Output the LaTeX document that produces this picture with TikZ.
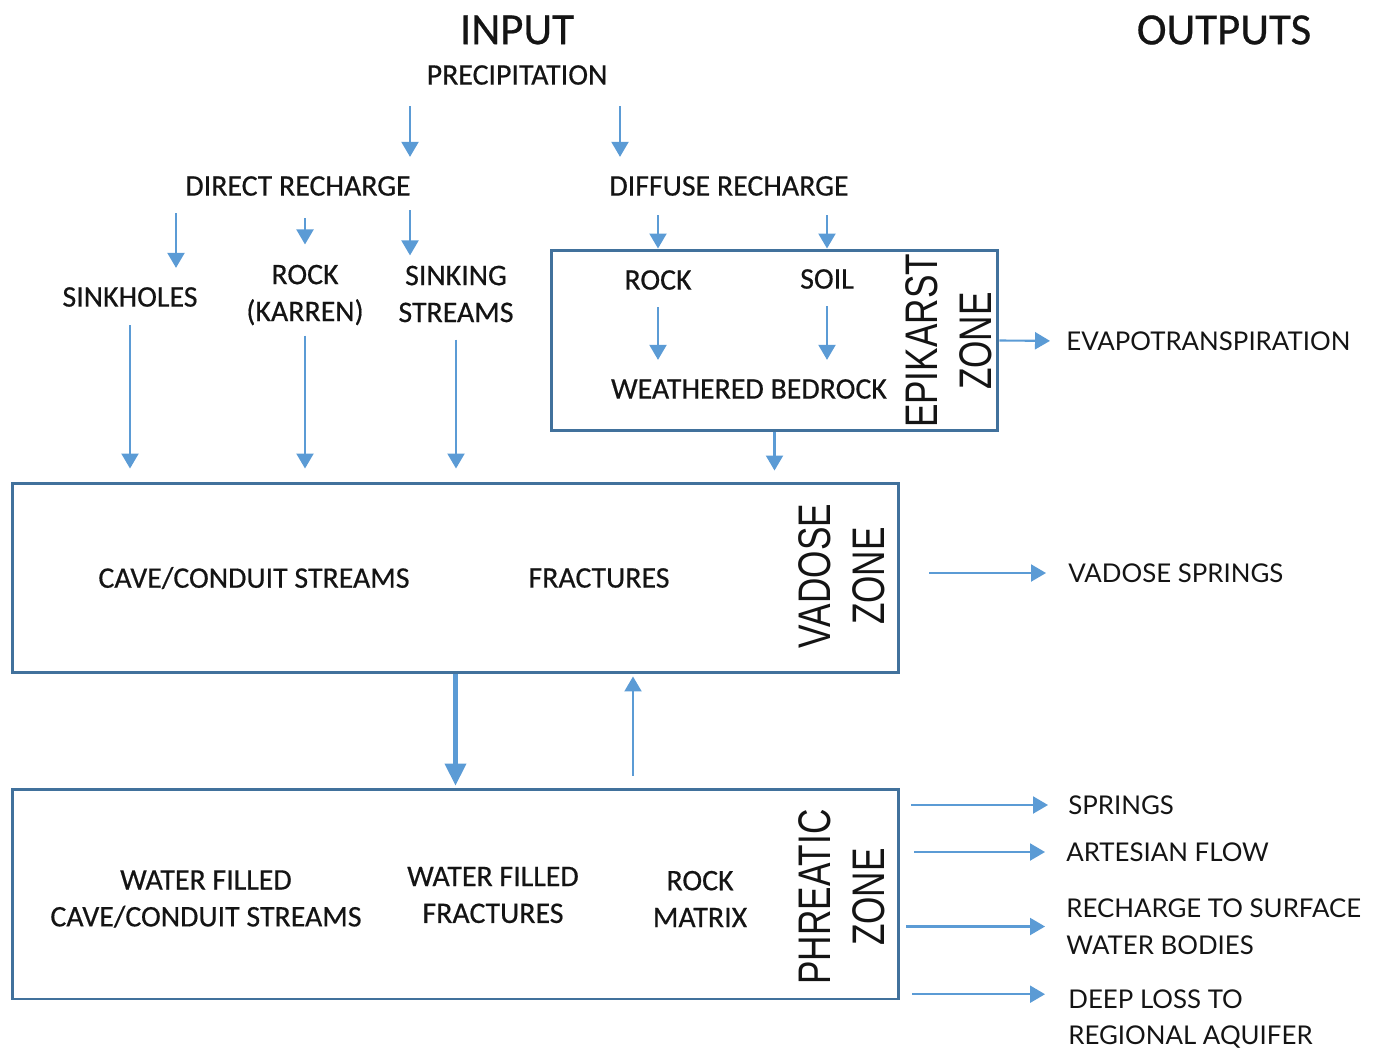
\documentclass[tikz,border=0pt]{standalone}
\usepackage{fontspec}
\usepackage{xcolor}
\usepackage{tikz}
\usetikzlibrary{arrows.meta}
\definecolor{arrblue}{HTML}{5B9BD5}
\definecolor{boxblue}{HTML}{41719C}
\definecolor{txt}{HTML}{141414}
\newfontfamily\calfam[FakeBold=0.5]{Carlito}
\newfontfamily\latfam{Lato}
\newfontfamily\zonefam[FakeStretch=0.77]{Liberation Sans}
\newcommand{\hdfont}{\calfam\fontsize{25.5}{30}\selectfont}
\newcommand{\lblfont}{\calfam\fontsize{17}{21}\selectfont}
\newcommand{\outfont}{\latfam\fontsize{14.7}{21}\selectfont}
\newcommand{\zonefont}{\zonefam\fontsize{26}{30.6}\selectfont}

\begin{document}
\begin{tikzpicture}[x=0.02cm, y=-0.02cm,
    lbl/.style={font=\lblfont, text=txt, inner sep=0pt, align=center},
    outlbl/.style={font=\outfont, text=txt, inner sep=0pt, anchor=west, align=left},
    zone/.style={font=\zonefont, text=txt, inner sep=0pt, rotate=90, align=center},
    zonebox/.style={draw=boxblue, line width=1.7pt, inner sep=0pt},
    flow/.style={draw=arrblue, line width=1.2pt, -{Triangle[length=0.3cm, width=0.34cm]}}]
    \useasboundingbox (0,0) rectangle (1378,1051);

    % headings
    \node[font=\hdfont, text=txt, inner sep=0pt] (input) at (517,30) {INPUT};
    \node[font=\hdfont, text=txt, inner sep=0pt] (outputs) at (1224,30) {OUTPUTS};
    \node[lbl] (precip) at (517,75) {PRECIPITATION};
    \node[lbl] (direct) at (298,186) {DIRECT RECHARGE};
    \node[lbl] (diffuse) at (729,186) {DIFFUSE RECHARGE};
    \coordinate (dirx) at (410,0);
    \coordinate (difx) at (620,0);
    \coordinate (sinkx) at (176,0);
    \coordinate (updx) at (633,0);

    % direct recharge paths
    \node[lbl] (sinkholes) at (130,297) {SINKHOLES};
    \node[lbl] (karren) at (305,295) {ROCK\\(KARREN)};
    \node[lbl] (sinking) at (456,294) {SINKING\\STREAMS};

    % epikarst
    \node[zonebox, minimum width=8.94cm, minimum height=3.62cm] (epikarst) at (774.5,340.5) {};
    \node[lbl] (rock) at (658,280) {ROCK};
    \node[lbl] (soil) at (827,279) {SOIL};
    \node[lbl] (bedrock) at (749,389) {WEATHERED BEDROCK};
    \node[zone] (epizone) at (948.5,341) {EPIKARST\\ZONE};

    % vadose
    \node[zonebox, minimum width=17.74cm, minimum height=3.8cm] (vadose) at (455.5,578) {};
    \node[lbl] (vcave) at (254,578) {CAVE/CONDUIT STREAMS};
    \node[lbl] (vfrac) at (599,578) {FRACTURES};
    \node[zone] (vadzone) at (842,576) {VADOSE\\ZONE};

    % phreatic
    \node[zonebox, minimum width=17.74cm, minimum height=4.2cm] (phreatic) at (455.5,894) {};
    \node[lbl] (pcave) at (206,899) {WATER FILLED\\CAVE/CONDUIT STREAMS};
    \node[lbl] (pfrac) at (493,895) {WATER FILLED\\FRACTURES};
    \node[lbl] (matrix) at (700,899) {ROCK\\MATRIX};
    \node[zone] (phrzone) at (842,897) {PHREATIC\\ZONE};

    % outputs
    \node[outlbl] (evapo) at (1066,341) {EVAPOTRANSPIRATION};
    \node[outlbl] (vsprings) at (1068,573) {VADOSE SPRINGS};
    \node[outlbl] (springs) at (1068,805) {SPRINGS};
    \node[outlbl] (artesian) at (1066,852) {ARTESIAN FLOW};
    \node[outlbl] (surface) at (1066,926.5) {RECHARGE TO SURFACE\\WATER BODIES};
    \node[outlbl] (deep) at (1068,1019) {DEEP LOSS TO\\REGIONAL AQUIFER};

    \draw[flow, shorten <=0.42cm, shorten >=0.38cm] (precip.south -| dirx) -- (direct.north -| dirx);
    \draw[flow, shorten <=0.42cm, shorten >=0.38cm] (precip.south -| difx) -- (diffuse.north -| difx);
    \draw[flow, shorten <=0.34cm, shorten >=0.38cm] (direct.south -| sinkx) -- (sinkholes.north -| sinkx);
    \draw[flow, shorten <=0.44cm, shorten >=0.4cm] (direct.south -| karren) -- (karren.north);
    \draw[flow, shorten <=0.28cm, shorten >=0.2cm] (direct.south -| dirx) -- (sinking.north -| dirx);
    \draw[flow, shorten <=0.38cm] (diffuse.south -| rock) -- (epikarst.north -| rock);
    \draw[flow, shorten <=0.38cm] (diffuse.south -| soil) -- (epikarst.north -| soil);
    \draw[flow, shorten <=0.34cm, shorten >=0.38cm] (rock.south) -- (bedrock.north -| rock);
    \draw[flow, shorten <=0.34cm, shorten >=0.38cm] (soil.south) -- (bedrock.north -| soil);
    \draw[flow, shorten <=0.36cm, shorten >=0.26cm] (sinkholes.south) -- (vadose.north -| sinkholes);
    \draw[flow, shorten <=0.2cm, shorten >=0.26cm] (karren.south) -- (vadose.north -| karren);
    \draw[flow, shorten <=0.34cm, shorten >=0.26cm] (sinking.south) -- (vadose.north -| sinking);
    \draw[flow, shorten >=0.22cm] (epikarst.south) -- (vadose.north -| epikarst.south);
    \draw[flow, shorten >=0.32cm] (epikarst.east) -- (evapo.west);
    \draw[flow, shorten <=0.58cm, shorten >=0.44cm] (vsprings.west -| vadose.east) -- (vsprings.west);
    \draw[flow, line width=2.3pt, -{Triangle[length=0.44cm, width=0.42cm]}, shorten >=0.04cm] (vadose.south) -- (phreatic.north);
    \draw[flow, shorten <=0.24cm, shorten >=0.04cm] (phreatic.north -| updx) -- (vadose.south -| updx);
    \draw[flow, shorten <=0.22cm, shorten >=0.4cm] (springs.west -| phreatic.east) -- (springs.west);
    \draw[flow, shorten <=0.28cm, shorten >=0.42cm] (artesian.west -| phreatic.east) -- (artesian.west);
    \draw[flow, shorten <=0.12cm, shorten >=0.42cm] (surface.west -| phreatic.east) -- (surface.west);
    \draw[flow, shorten <=0.24cm, shorten >=0.46cm] ([yshift=-3pt]deep.north west -| phreatic.east) -- ([yshift=-3pt]deep.north west);
\end{tikzpicture}
\end{document}
